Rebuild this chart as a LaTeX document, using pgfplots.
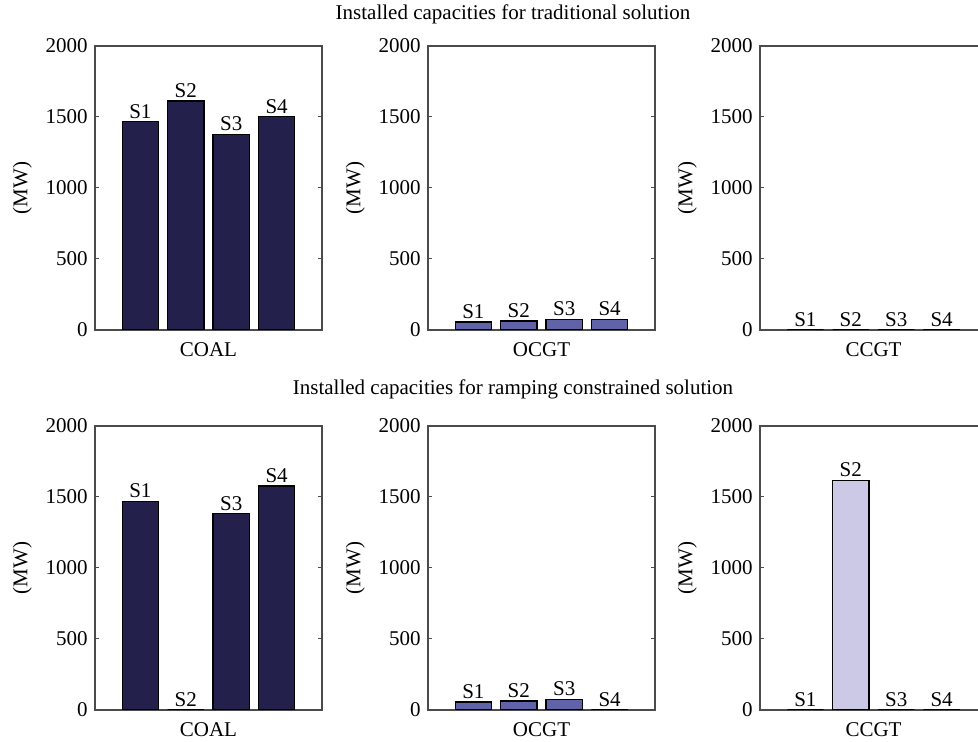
\documentclass[border=0pt]{standalone}
\usepackage{fontspec}
\setmainfont{Liberation Serif}
\usepackage{pgfplots}
\pgfplotsset{compat=1.18}
\definecolor{coal}{RGB}{35,32,76}
\definecolor{ocgt}{RGB}{97,99,168}
\definecolor{ccgt}{RGB}{203,201,229}
\definecolor{axgray}{RGB}{75,75,75}
\pgfplotsset{
  panel/.style={
    set layers,
    scale only axis,
    width=113.5pt, height=142pt,
    anchor=south west,
    xmin=0, xmax=5, ymin=0, ymax=2000,
    xtick=\empty,
    ytick={0,500,1000,1500,2000},
    tick align=inside,
    major tick length=2pt,
    tick style={axgray, line width=0.5pt},
    axis line style={axgray, line width=0.6pt},
    /pgf/number format/assume math mode=true,
    /pgf/number format/1000 sep={},
    yticklabel style={font=\fontsize{10.5}{12}\selectfont, inner sep=1pt, xshift=-2.5pt},
    ylabel={(MW)},
    ylabel style={at={(axis description cs:-0.32,0.5)}, anchor=center, font=\fontsize{10.5}{12}\selectfont},
    xlabel style={at={(axis description cs:0.5,-0.07)}, anchor=center, font=\fontsize{10.5}{12}\selectfont},
    ybar, bar width=0.8,
    point meta=explicit symbolic,
    nodes near coords,
    every node near coord/.append style={font=\fontsize{10.5}{12}\selectfont, anchor=south, inner sep=1.5pt},
  },
  coalbar/.style={fill=coal, draw=black, line width=0.6pt},
  ocgtbar/.style={fill=ocgt, draw=black, line width=0.6pt},
  ccgtbar/.style={fill=ccgt, draw=black, line width=0.6pt},
}
\begin{document}
\begin{tikzpicture}
% ---------- top row: traditional solution ----------
\begin{axis}[panel, at={(47.5pt,206pt)}, xlabel={COAL}]
\addplot[coalbar] coordinates {(1,1466)[S1] (2,1613)[S2] (3,1377)[S3] (4,1501)[S4]};
\end{axis}
\begin{axis}[panel, at={(214pt,206pt)}, xlabel={OCGT}]
\addplot[ocgtbar] coordinates {(1,56)[S1] (2,63)[S2] (3,75)[S3] (4,75)[S4]};
\end{axis}
\begin{axis}[panel, at={(380pt,206pt)}, xlabel={CCGT}]
\addplot[ccgtbar] coordinates {(1,0)[S1] (2,0)[S2] (3,0)[S3] (4,0)[S4]};
\end{axis}
% ---------- bottom row: ramping constrained solution ----------
\begin{axis}[panel, at={(47.5pt,16pt)}, xlabel={COAL}]
\addplot[coalbar] coordinates {(1,1470)[S1] (2,0)[S2] (3,1381)[S3] (4,1578)[S4]};
\end{axis}
\begin{axis}[panel, at={(214pt,16pt)}, xlabel={OCGT}]
\addplot[ocgtbar] coordinates {(1,56)[S1] (2,63)[S2] (3,75)[S3] (4,0)[S4]};
\end{axis}
\begin{axis}[panel, at={(380pt,16pt)}, xlabel={CCGT}]
\addplot[ccgtbar] coordinates {(1,0)[S1] (2,1615)[S2] (3,0)[S3] (4,0)[S4]};
\end{axis}
\node[font=\fontsize{10.5}{12}\selectfont] at (256.5pt,364pt) {Installed capacities for traditional solution};
\node[font=\fontsize{10.5}{12}\selectfont] at (256.5pt,176.5pt) {Installed capacities for ramping constrained solution};
\pgfresetboundingbox
\path[use as bounding box] (0pt,0pt) rectangle (489pt,371pt);
\end{tikzpicture}
\end{document}
